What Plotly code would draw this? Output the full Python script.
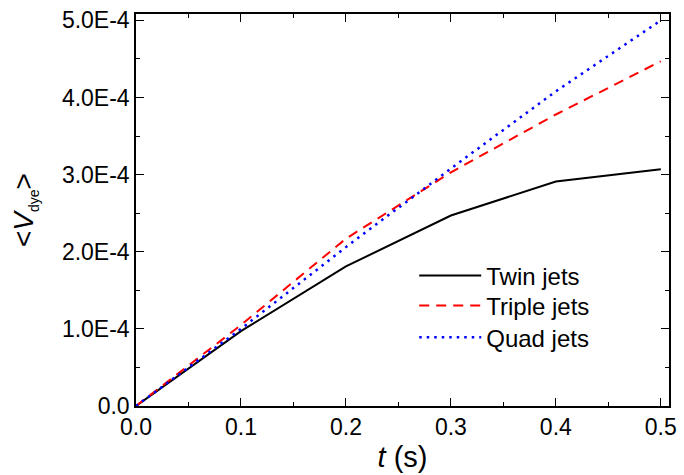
import plotly.graph_objects as go

t = [0.0, 0.1, 0.2, 0.3, 0.4, 0.5]
twin = [0.0, 0.97e-4, 1.81e-4, 2.47e-4, 2.91e-4, 3.07e-4]
triple = [0.0, 1.05e-4, 2.17e-4, 3.03e-4, 3.78e-4, 4.47e-4]
quad = [0.0, 1.0e-4, 2.06e-4, 3.08e-4, 4.08e-4, 5.0e-4]

x_ticks = [0.0, 0.1, 0.2, 0.3, 0.4, 0.5]
y_ticks = [0.0, 1e-4, 2e-4, 3e-4, 4e-4, 5e-4]
y_ticklabels = ["0.0", "1.0E-4", "2.0E-4", "3.0E-4", "4.0E-4", "5.0E-4"]

fig = go.Figure()
fig.add_trace(go.Scatter(x=t, y=twin, mode="lines", name="Twin jets", legend="legend",
                         line=dict(color="black", width=2, dash="solid")))
fig.add_trace(go.Scatter(x=t, y=triple, mode="lines", name="Triple jets", legend="legend2",
                         line=dict(color="#ff0000", width=2, dash="10px,7px")))
fig.add_trace(go.Scatter(x=t, y=quad, mode="lines", name="Quad jets", legend="legend3",
                         line=dict(color="#0000ff", width=2.5, dash="2.5px,5px")))

font_family = "Liberation Sans, Arial, sans-serif"
leg = dict(x=0.522, xanchor="left", yanchor="top", bgcolor="rgba(0,0,0,0)",
           font=dict(size=24), itemwidth=62, tracegroupgap=0)
fig.update_layout(
    width=684, height=475,
    margin=dict(l=136, r=7, t=10, b=69),
    paper_bgcolor="white", plot_bgcolor="white",
    font=dict(family=font_family, color="black", size=23),
    showlegend=True,
    legend=dict(leg, y=0.389),
    legend2=dict(leg, y=0.313),
    legend3=dict(leg, y=0.232),
)
fig.update_xaxes(
    range=[0, 0.5078], tickvals=x_ticks, tickformat=".1f",
    ticks="inside", ticklen=8, tickwidth=1.3, tickcolor="black",
    showline=True, linecolor="black", linewidth=1.5, mirror="allticks",
    showgrid=False, zeroline=False,
    minor=dict(ticks="inside", ticklen=4, tickwidth=1.3, tickcolor="black", dtick=0.05, showgrid=False),
    tickfont=dict(size=23),
    title=dict(text="<i>t</i> (s)", font=dict(size=29), standoff=7),
)
fig.update_yaxes(
    range=[0, 5.083e-4], tickvals=y_ticks, ticktext=y_ticklabels,
    ticks="inside", ticklen=8, tickwidth=1.3, tickcolor="black",
    showline=True, linecolor="black", linewidth=1.5, mirror="allticks",
    showgrid=False, zeroline=False,
    minor=dict(ticks="inside", ticklen=4, tickwidth=1.3, tickcolor="black", dtick=0.5e-4, showgrid=False),
    tickfont=dict(size=23),
    title=dict(text="&lt;<i>V</i><sub><span style='font-size:14px'>dye</span></sub>&gt;",
               font=dict(size=28), standoff=20),
)

fig.write_html("out.html")
